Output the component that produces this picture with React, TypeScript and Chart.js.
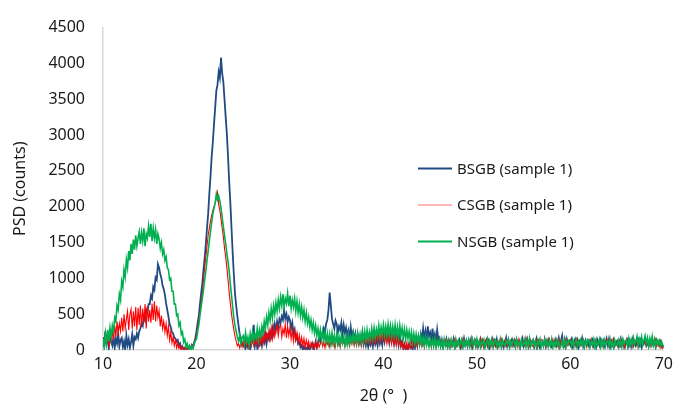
import React, { useEffect, useRef } from "react";
import { Chart, registerables } from "chart.js";

Chart.register(...registerables);

// 2θ sampling: start and step (degrees)
const THETA_START = 10;
const THETA_STEP = 0.125;

const SERIES_NAMES = ["BSGB (sample 1)", "CSGB (sample 1)", "NSGB (sample 1)"];
const X_TICKS = [10, 20, 30, 40, 50, 60, 70];
const Y_TICKS = [0, 500, 1000, 1500, 2000, 2500, 3000, 3500, 4000, 4500];

// one row per degree (10 … 69), eight readings each, then the value at 70
const BSGB = [
  180, 40, 260, 90, 150, 20, 210, 110,
  60, 190, 30, 160, 90, 230, 50, 140,
  170, 40, 120, 10, 200, 70, 150, 30,
  110, 220, 60, 180, 150, 230, 170, 260,
  300, 380, 340, 470, 420, 560, 520, 640,
  640, 760, 720, 880, 840, 1010, 980, 1200,
  1150, 1060, 1000, 900, 850, 770, 650, 560,
  470, 360, 320, 250, 230, 170, 160, 120,
  140, 60, 90, 20, 50, 0, 30, 10,
  30, 0, 50, 20, 70, 40, 110, 160,
  260, 380, 480, 640, 790, 930, 1120, 1280,
  1480, 1700, 1900, 2180, 2420, 2700, 2900, 3150,
  3380, 3620, 3700, 3880, 3800, 4080, 3860, 3740,
  3500, 3250, 3020, 2700, 2350, 2050, 1700, 1350,
  1050, 780, 620, 470, 340, 220, 160, 90,
  60, 130, 20, 90, 40, 120, 10, 80,
  140, 350, 60, 170, 30, 110, 70, 150,
  60, 180, 110, 230, 90, 200, 150, 260,
  190, 310, 230, 360, 280, 400, 320, 430,
  380, 470, 420, 560, 440, 500, 390, 460,
  420, 300, 380, 240, 290, 150, 200, 90,
  110, 40, 70, 0, 50, 10, 30, 0,
  60, 0, 40, 90, 10, 50, 120, 30,
  80, 170, 120, 220, 190, 300, 250, 370,
  420, 560, 800, 620, 430, 360, 300, 410,
  360, 250, 330, 280, 380, 220, 350, 240,
  310, 190, 270, 160, 320, 180, 250, 140,
  230, 120, 200, 90, 180, 110, 240, 80,
  150, 60, 130, 40, 110, 70, 160, 50,
  170, 80, 140, 60, 190, 90, 150, 70,
  220, 120, 250, 140, 200, 100, 240, 130,
  190, 90, 230, 110, 170, 70, 200, 60,
  120, 20, 80, 0, 60, 10, 90, 30,
  50, 0, 110, 30, 140, 60, 180, 90,
  220, 130, 300, 160, 260, 120, 330, 190,
  240, 110, 300, 150, 220, 100, 280, 140,
  170, 60, 140, 40, 120, 80, 150, 50,
  130, 50, 110, 70, 150, 40, 120, 60,
  90, 140, 40, 120, 60, 160, 70, 110,
  50, 130, 80, 150, 30, 100, 140, 60,
  120, 40, 90, 150, 70, 130, 50, 110,
  140, 60, 120, 30, 100, 160, 80, 130,
  70, 150, 50, 110, 140, 60, 120, 40,
  100, 170, 60, 130, 40, 110, 150, 70,
  130, 50, 140, 80, 120, 30, 100, 160,
  60, 120, 90, 150, 50, 130, 70, 110,
  140, 40, 100, 160, 60, 120, 30, 90,
  110, 70, 150, 50, 130, 90, 140, 60,
  40, 120, 80, 140, 60, 110, 170, 50,
  130, 200, 60, 100, 40, 150, 80, 120,
  70, 140, 50, 110, 150, 60, 130, 40,
  120, 80, 160, 50, 100, 140, 70, 110,
  50, 130, 90, 140, 60, 120, 40, 150,
  110, 60, 140, 80, 130, 50, 100, 160,
  70, 150, 40, 120, 90, 140, 60, 110,
  130, 50, 110, 160, 70, 120, 40, 100,
  90, 140, 60, 130, 50, 150, 80, 120,
  60, 110, 150, 70, 130, 40, 120, 90,
  140, 60, 100, 50, 130, 80, 150, 70,
  110, 40, 130, 90, 60, 120, 80, 50,
  60,
];

const CSGB = [
  170, 60, 230, 110, 190, 40, 250, 130,
  280, 140, 340, 190, 400, 230, 370, 260,
  450, 260, 500, 300, 430, 540, 280, 490,
  570, 300, 540, 330, 600, 280, 590, 350,
  620, 320, 580, 380, 640, 300, 610, 400,
  560, 380, 650, 420, 680, 400, 620, 450,
  550, 330, 480, 300, 400, 250, 370, 200,
  330, 140, 250, 100, 180, 60, 140, 30,
  100, 20, 60, 0, 40, 10, 30, 0,
  20, 0, 40, 10, 60, 30, 80, 130,
  200, 300, 420, 520, 650, 800, 980, 1150,
  1300, 1450, 1600, 1700, 1800, 1880, 1950, 2000,
  2050, 2120, 2200, 2030, 1950, 1830, 1700, 1580,
  1420, 1300, 1150, 980, 800, 650, 500, 380,
  280, 190, 120, 60, 90, 30, 100, 40,
  120, 40, 140, 60, 110, 20, 150, 70,
  160, 60, 130, 80, 180, 50, 170, 90,
  210, 100, 250, 120, 230, 150, 270, 110,
  300, 160, 330, 190, 280, 350, 200, 320,
  350, 180, 300, 220, 360, 170, 330, 200,
  310, 150, 280, 120, 260, 140, 240, 100,
  210, 80, 180, 60, 160, 40, 140, 50,
  120, 20, 100, 40, 90, 10, 110, 30,
  120, 40, 90, 150, 50, 110, 30, 130,
  80, 150, 50, 130, 70, 160, 40, 120,
  140, 60, 110, 40, 150, 80, 120, 50,
  160, 70, 130, 50, 140, 90, 150, 60,
  130, 60, 170, 80, 140, 50, 160, 90,
  180, 80, 150, 100, 210, 90, 190, 110,
  230, 110, 200, 130, 250, 100, 220, 140,
  240, 120, 200, 90, 230, 110, 190, 80,
  210, 80, 170, 60, 190, 70, 150, 50,
  120, 20, 90, 10, 100, 0, 80, 30,
  140, 40, 110, 60, 150, 50, 130, 70,
  150, 50, 120, 40, 140, 70, 110, 60,
  130, 40, 150, 70, 100, 50, 140, 60,
  110, 50, 130, 70, 90, 140, 60, 120,
  70, 140, 50, 120, 90, 150, 40, 110,
  130, 60, 110, 40, 150, 70, 120, 80,
  100, 150, 60, 130, 40, 110, 90, 140,
  50, 120, 80, 160, 60, 130, 40, 100,
  150, 70, 130, 50, 110, 40, 140, 60,
  90, 130, 40, 120, 70, 150, 60, 110,
  140, 50, 100, 160, 80, 120, 50, 130,
  60, 140, 110, 40, 150, 70, 120, 90,
  120, 60, 170, 80, 110, 50, 140, 70,
  50, 120, 90, 140, 40, 130, 80, 150,
  140, 60, 120, 40, 100, 160, 70, 110,
  90, 150, 50, 130, 80, 120, 40, 140,
  60, 130, 100, 50, 150, 70, 120, 80,
  140, 40, 110, 70, 130, 60, 150, 90,
  50, 120, 80, 140, 60, 110, 40, 130,
  130, 70, 150, 50, 120, 90, 140, 60,
  80, 140, 60, 110, 40, 130, 70, 150,
  120, 50, 100, 140, 60, 150, 80, 110,
  60, 130, 90, 50, 140, 70, 120, 40,
  150, 80, 120, 60, 110, 140, 50, 130,
  90, 140, 40, 120, 70, 150, 60, 110,
  130, 60, 110, 80, 140, 50, 120, 70,
  80, 150, 60, 130, 50, 110, 30, 20,
  60,
];

const NSGB = [
  160, 40, 230, 90, 280, 120, 310, 180,
  340, 260, 450, 400, 620, 560, 780, 700,
  960, 880, 1120, 1020, 1260, 1150, 1380, 1250,
  1480, 1340, 1540, 1400, 1600, 1450, 1560, 1650,
  1480, 1640, 1520, 1700, 1450, 1620, 1560, 1730,
  1580, 1760, 1520, 1700, 1560, 1680, 1480, 1620,
  1550, 1420, 1500, 1340, 1400, 1250, 1300, 1150,
  1120, 980, 1000, 820, 820, 640, 640, 480,
  500, 340, 380, 220, 250, 110, 150, 40,
  90, 20, 60, 0, 50, 20, 80, 130,
  150, 260, 350, 480, 600, 720, 840, 980,
  1100, 1250, 1380, 1520, 1650, 1780, 1900, 1980,
  2050, 2180, 2100, 2150, 2080, 1980, 1850, 1720,
  1600, 1480, 1350, 1230, 1100, 920, 760, 600,
  450, 340, 260, 180, 120, 200, 90, 170,
  200, 90, 240, 110, 180, 70, 230, 130,
  260, 130, 220, 160, 300, 150, 280, 190,
  330, 240, 400, 300, 460, 350, 520, 410,
  580, 450, 620, 500, 660, 540, 700, 580,
  740, 620, 780, 600, 720, 650, 790, 610,
  760, 580, 700, 600, 720, 540, 680, 520,
  640, 480, 600, 450, 560, 400, 520, 370,
  460, 320, 420, 280, 380, 240, 340, 200,
  300, 170, 280, 150, 260, 130, 240, 110,
  230, 100, 220, 90, 240, 110, 200, 80,
  220, 90, 190, 80, 210, 100, 180, 70,
  190, 80, 210, 90, 180, 100, 220, 110,
  200, 100, 240, 120, 220, 110, 250, 130,
  260, 130, 280, 150, 250, 160, 300, 170,
  310, 180, 290, 200, 340, 190, 320, 210,
  350, 210, 330, 200, 360, 220, 340, 190,
  330, 200, 350, 190, 320, 180, 340, 200,
  310, 170, 290, 150, 280, 160, 260, 130,
  250, 120, 230, 100, 220, 110, 200, 90,
  190, 80, 170, 60, 180, 70, 160, 50,
  150, 60, 140, 50, 160, 40, 130, 60,
  140, 50, 120, 40, 150, 60, 130, 40,
  120, 40, 140, 60, 110, 30, 150, 70,
  130, 50, 100, 150, 40, 120, 60, 140,
  70, 140, 40, 110, 160, 60, 130, 50,
  150, 60, 120, 40, 130, 80, 140, 30,
  100, 160, 50, 130, 70, 140, 40, 120,
  140, 50, 110, 60, 150, 30, 130, 80,
  60, 130, 90, 150, 40, 120, 70, 140,
  130, 40, 150, 70, 110, 50, 140, 60,
  80, 150, 40, 130, 60, 160, 50, 120,
  140, 60, 120, 30, 130, 80, 150, 40,
  110, 50, 140, 70, 120, 40, 130, 60,
  150, 40, 110, 60, 140, 70, 120, 30,
  70, 130, 50, 150, 40, 120, 80, 140,
  130, 60, 140, 40, 110, 150, 50, 120,
  60, 140, 80, 130, 30, 120, 70, 150,
  140, 50, 120, 70, 150, 40, 130, 60,
  90, 150, 40, 130, 60, 140, 50, 120,
  130, 60, 150, 50, 120, 30, 140, 70,
  70, 140, 60, 130, 40, 150, 80, 120,
  140, 50, 160, 70, 130, 60, 170, 80,
  120, 190, 60, 150, 80, 180, 70, 140,
  200, 90, 170, 60, 160, 80, 190, 70,
  150, 60, 140, 80, 130, 50, 120, 70,
  40,
];

const COLORS = ["#1F4A82", "#FF0000", "#00B050"];
const LEGEND_COLORS = ["#1F4A82", "#FFB8B8", "#00B050"];
const FONT = "'Noto Sans', 'Open Sans', sans-serif";
const TEXT_COLOR = "#1a1a1a";

const toPoints = (vals: number[]) =>
  vals.map((v, i) => ({ x: THETA_START + i * THETA_STEP, y: v }));

export default function App() {
  const ref = useRef<HTMLCanvasElement | null>(null);

  useEffect(() => {
    const legendPlugin = {
      id: "customLegend",
      afterDatasetsDraw(chart: any) {
        const { ctx, chartArea } = chart;
        const x0 = chartArea.left + 315;
        const y0 = chartArea.top + 141;
        const gap = 36.5;
        ctx.save();
        ctx.font = `15px ${FONT}`;
        ctx.textBaseline = "middle";
        ctx.textAlign = "left";
        SERIES_NAMES.forEach((name, i) => {
          const y = y0 + i * gap;
          ctx.strokeStyle = LEGEND_COLORS[i];
          ctx.lineWidth = 2;
          ctx.beginPath();
          ctx.moveTo(x0, y);
          ctx.lineTo(x0 + 34, y);
          ctx.stroke();
          ctx.fillStyle = TEXT_COLOR;
          ctx.fillText(name, x0 + 39, y + 1);
        });
        ctx.restore();
      },
    };

    const chart = new Chart(ref.current as HTMLCanvasElement, {
      type: "line",
      data: {
        datasets: [
          {
            label: SERIES_NAMES[0],
            data: toPoints(BSGB),
            borderColor: COLORS[0],
            borderWidth: 1.8,
            pointRadius: 0,
            tension: 0,
            order: 3,
          },
          {
            label: SERIES_NAMES[1],
            data: toPoints(CSGB),
            borderColor: COLORS[1],
            borderWidth: 1.1,
            pointRadius: 0,
            tension: 0,
            order: 2,
          },
          {
            label: SERIES_NAMES[2],
            data: toPoints(NSGB),
            borderColor: COLORS[2],
            borderWidth: 1.6,
            pointRadius: 0,
            tension: 0,
            order: 1,
          },
        ],
      },
      options: {
        responsive: false,
        animation: false,
        layout: { padding: { left: 0, right: 13, top: 23, bottom: 0 } },
        plugins: {
          legend: { display: false },
          tooltip: { enabled: false },
        },
        scales: {
          x: {
            type: "linear",
            min: 10,
            max: 70,
            afterBuildTicks: (s: any) => {
              s.ticks = X_TICKS.map((v) => ({ value: v }));
            },
            afterFit: (s: any) => {
              s.height = 58;
            },
            grid: { display: false, drawTicks: false },
            border: { display: true, color: "#D9D9D9", width: 1.5 },
            ticks: {
              padding: 5,
              color: TEXT_COLOR,
              font: { family: FONT, size: 16 },
              callback: (v: any) => String(v),
            },
            title: {
              display: true,
              text: "2θ (°  )",
              color: TEXT_COLOR,
              font: { family: FONT, size: 16 },
              padding: { top: 0, bottom: 2 },
            },
          },
          y: {
            min: 0,
            max: 4500,
            afterBuildTicks: (s: any) => {
              s.ticks = Y_TICKS.map((v) => ({ value: v }));
            },
            afterFit: (s: any) => {
              s.width = 103;
            },
            grid: { display: false, drawTicks: false },
            border: { display: true, color: "#D9D9D9", width: 1.5 },
            ticks: {
              padding: 18,
              color: TEXT_COLOR,
              font: { family: FONT, size: 16 },
              callback: (v: any) => String(v),
            },
            title: {
              display: true,
              text: "PSD (counts)",
              color: TEXT_COLOR,
              font: { family: FONT, size: 16 },
              padding: { top: 11, bottom: 0 },
            },
          },
        },
      },
      plugins: [legendPlugin],
    } as any);

    return () => chart.destroy();
  }, []);

  return (
    <div style={{ position: "absolute", left: 0, top: 0, width: 678, height: 408, background: "#fff" }}>
      <canvas ref={ref} width={678} height={408} style={{ display: "block" }} />
    </div>
  );
}
